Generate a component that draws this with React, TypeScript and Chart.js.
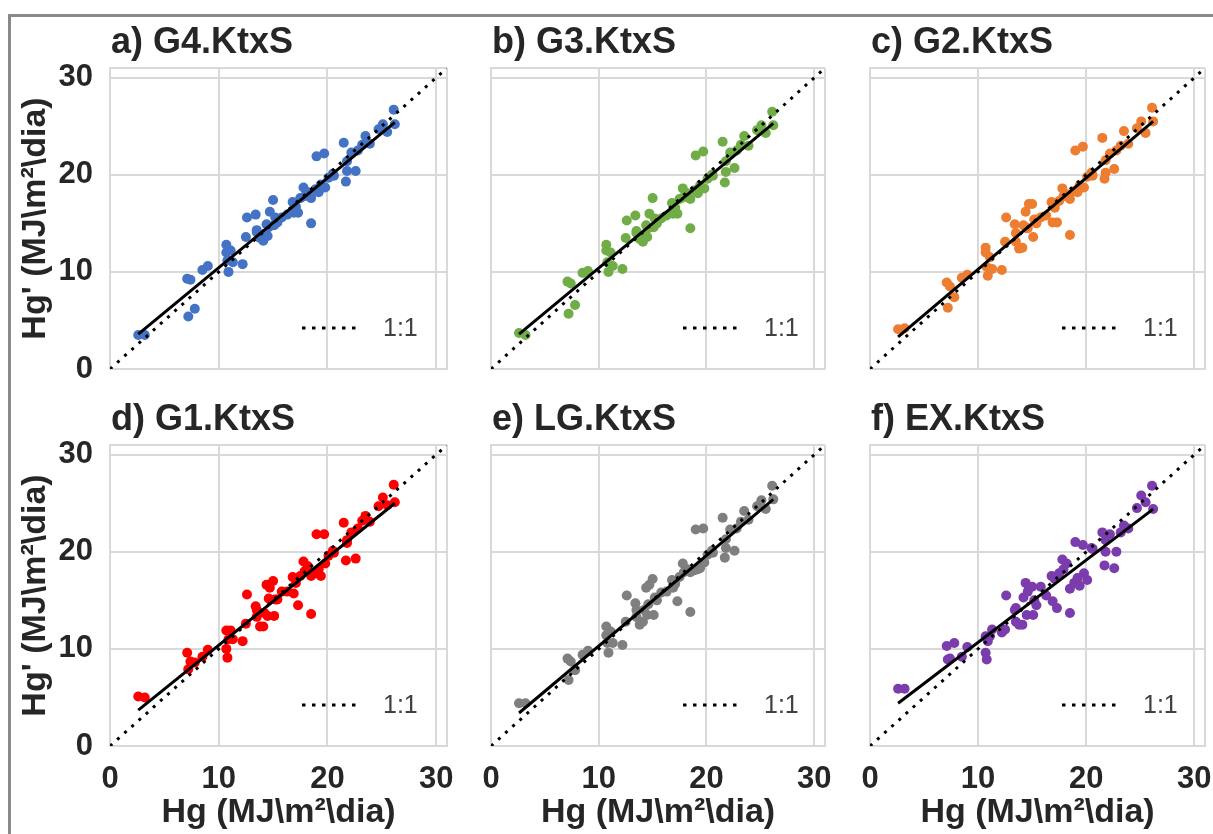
import React, { useEffect, useRef } from 'react';
import { Chart, registerables } from 'chart.js';

Chart.register(...registerables);

// ---------- data ----------
const PANEL_TITLES = ['a) G4.KtxS', 'b) G3.KtxS', 'c) G2.KtxS', 'd) G1.KtxS', 'e) LG.KtxS', 'f) EX.KtxS'];
const PANEL_COLORS = ['#4472C4', '#70AD47', '#ED7D31', '#FF0000', '#7F7F7F', '#7B3CAD'];
const AXIS_TICKS = [0, 10, 20, 30, 31];
const AXIS_MIN = 0;
const AXIS_MAX = 31;
const X_TITLE = 'Hg (MJ\\m²\\dia)';
const Y_TITLE = "Hg' (MJ\\m²\\dia)";
const LEGEND_LABEL = '1:1';

// observed Hg (shared by all panels)
const HG = [2.6, 3.2, 7.1, 7.4, 7.2, 7.8, 8.5, 9.0, 10.7, 10.7, 10.8, 10.9, 11.3, 12.2, 12.5, 12.6, 13.4, 13.5, 13.8, 14.2, 14.5, 14.4, 14.7, 14.6, 15.0, 15.2, 15.1, 15.8, 16.8, 16.9, 17.3, 17.5, 17.8, 18.2, 18.5, 18.5, 18.9, 19.4, 19.8, 20.1, 20.5, 19.0, 19.7, 21.5, 21.8, 21.8, 21.7, 22.6, 22.8, 23.5, 23.9, 25.1, 25.5, 26.1, 26.2, 14.1, 13.5, 16.3, 17.1, 17.9, 20.6, 23.2, 24.7, 11.1, 15.4, 22.2, 19.2];

// estimated Hg' per model
const HG_G4 = [3.5, 3.5, 9.3, 9.2, 5.4, 6.2, 10.2, 10.6, 12.8, 12.0, 11.2, 10.0, 11.0, 10.8, 13.6, 15.6, 15.9, 14.3, 13.5, 13.9, 13.7, 14.9, 16.2, 14.6, 17.4, 15.6, 14.8, 15.6, 17.2, 16.1, 16.1, 17.6, 18.7, 18.2, 17.6, 15.0, 18.5, 19.0, 18.7, 19.7, 20.1, 21.9, 22.2, 23.3, 21.4, 20.4, 19.3, 20.4, 22.5, 24.0, 23.2, 25.2, 24.4, 26.7, 25.2, 13.2, 14.1, 15.9, 16.7, 17.8, 19.9, 23.1, 24.7, 12.2, 15.1, 22.3, 18.2];
const HG_G3 = [3.7, 3.5, 9.0, 8.8, 5.7, 6.6, 9.9, 10.1, 12.8, 12.2, 11.0, 10.0, 10.6, 10.3, 13.5, 15.3, 15.8, 14.2, 13.4, 13.8, 13.6, 14.8, 16.0, 14.5, 17.6, 15.5, 14.6, 15.5, 17.1, 16.0, 16.0, 17.5, 18.6, 18.1, 17.5, 14.5, 18.4, 18.9, 18.6, 19.6, 20.0, 22.0, 22.4, 23.4, 21.4, 20.3, 19.2, 20.7, 22.5, 24.0, 23.0, 25.1, 24.3, 26.5, 25.1, 13.1, 14.0, 15.8, 16.6, 17.7, 19.9, 23.1, 24.6, 12.0, 15.0, 22.3, 18.1];
const HG_G2 = [4.1, 4.2, 8.9, 8.5, 6.3, 7.4, 9.4, 9.7, 12.5, 12.0, 10.5, 9.6, 10.3, 10.2, 13.1, 15.6, 14.9, 13.1, 12.4, 14.8, 14.5, 16.2, 17.0, 14.5, 17.0, 15.4, 13.6, 15.6, 17.2, 15.1, 15.1, 17.3, 18.6, 18.0, 17.5, 13.8, 18.3, 18.9, 18.7, 19.8, 20.2, 22.5, 22.9, 23.8, 21.5, 20.2, 19.6, 20.6, 22.5, 24.5, 23.2, 25.5, 24.3, 26.9, 25.5, 12.5, 14.0, 15.8, 16.6, 17.8, 19.9, 23.0, 24.8, 11.5, 15.0, 22.2, 18.2];
const HG_G1 = [5.1, 5.0, 9.6, 8.7, 7.9, 8.6, 9.2, 9.9, 11.9, 10.0, 9.1, 11.0, 11.0, 10.8, 12.6, 15.6, 14.4, 13.3, 12.3, 13.7, 13.4, 16.6, 16.3, 15.2, 17.0, 15.1, 13.4, 15.9, 17.4, 15.7, 14.5, 17.5, 19.0, 18.5, 17.5, 13.6, 17.8, 17.5, 18.8, 19.6, 20.1, 21.8, 21.8, 23.0, 20.9, 21.2, 19.1, 19.3, 22.4, 23.7, 23.1, 25.6, 24.8, 26.9, 25.1, 12.3, 14.0, 15.9, 16.8, 18.0, 19.9, 23.2, 24.7, 11.9, 15.1, 22.0, 18.2];
const HG_LG = [4.4, 4.4, 9.0, 8.7, 6.8, 7.8, 9.4, 9.8, 12.3, 11.4, 10.6, 9.6, 10.6, 10.4, 12.8, 15.5, 14.7, 13.3, 12.5, 14.0, 13.5, 16.3, 16.6, 14.6, 17.2, 15.3, 13.5, 15.8, 17.1, 16.3, 14.9, 17.4, 18.8, 18.2, 17.9, 13.8, 18.1, 18.3, 18.9, 19.7, 20.1, 22.3, 22.4, 23.5, 21.3, 20.4, 19.4, 20.1, 22.4, 24.2, 23.3, 25.3, 24.4, 26.8, 25.4, 12.8, 14.0, 15.9, 16.7, 17.9, 19.9, 23.1, 24.7, 11.8, 15.0, 22.3, 18.2];
const HG_EX = [5.9, 5.9, 10.3, 9.0, 8.9, 10.6, 9.2, 10.2, 11.3, 9.6, 8.9, 10.8, 12.0, 11.7, 12.0, 15.5, 14.0, 12.8, 12.5, 15.3, 13.5, 16.8, 16.4, 15.9, 16.4, 15.0, 13.5, 16.4, 17.5, 14.9, 14.2, 17.8, 19.2, 18.8, 16.2, 13.7, 16.8, 16.5, 17.8, 17.1, 20.4, 21.0, 20.7, 22.0, 21.2, 20.0, 18.6, 18.3, 20.0, 22.7, 22.4, 25.8, 25.1, 26.8, 24.4, 12.5, 14.2, 15.5, 17.2, 18.2, 20.3, 22.0, 24.5, 11.3, 14.5, 21.8, 17.3];

// trend line end points (x and y for each model)
const FIT_X = [2.6, 26.2];
const FIT_G4 = [3.6, 25.4];
const FIT_G3 = [3.6, 25.3];
const FIT_G2 = [3.3, 25.5];
const FIT_G1 = [3.7, 25.0];
const FIT_LG = [3.4, 25.4];
const FIT_EX = [4.4, 24.4];
const ONE_TO_ONE = [0, 31];

const SERIES = [HG_G4, HG_G3, HG_G2, HG_G1, HG_LG, HG_EX];
const FITS = [FIT_G4, FIT_G3, FIT_G2, FIT_G1, FIT_LG, FIT_EX];

// ---------- layout ----------
const FONT = '"Liberation Sans", Arial, Helvetica, sans-serif';
const TEXT_COLOR = '#262626';
const GRID_COLOR = '#d9d9d9';

const COLS = [
  { cl: 12, cw: 448, plotL: 110, plotR: 447, showY: true },
  { cl: 462, cw: 378, plotL: 491, plotR: 825, showY: false },
  { cl: 842, cw: 371, plotL: 870, plotR: 1205, showY: false },
];
const ROWS = [
  { ct: 18, ch: 375, plotT: 68, plotB: 369, showX: false },
  { ct: 395, ch: 439, plotT: 445, plotB: 746, showX: true },
];

const decoPlugin = {
  id: 'panelDeco',
  afterDatasetsDraw(chart: any, _args: any, opts: any) {
    const { ctx, chartArea: a } = chart;
    ctx.save();
    // legend sample for the 1:1 line
    ctx.strokeStyle = '#000';
    ctx.lineWidth = 3;
    ctx.setLineDash([3.5, 6.5]);
    ctx.beginPath();
    ctx.moveTo(a.left + 192, a.bottom - 41);
    ctx.lineTo(a.left + 247, a.bottom - 41);
    ctx.stroke();
    ctx.setLineDash([]);
    ctx.fillStyle = '#404040';
    ctx.font = `25px ${FONT}`;
    ctx.textBaseline = 'middle';
    ctx.textAlign = 'left';
    ctx.fillText(LEGEND_LABEL, a.left + 273, a.bottom - 40);
    // panel title
    ctx.fillStyle = TEXT_COLOR;
    ctx.font = `bold 36px ${FONT}`;
    ctx.textBaseline = 'alphabetic';
    ctx.fillText(opts.title, a.left + 1, a.top - 15);
    ctx.restore();
  },
};

function Panel({ index }: { index: number }) {
  const ref = useRef<HTMLCanvasElement>(null);
  const col = COLS[index % 3];
  const row = ROWS[Math.floor(index / 3)];

  useEffect(() => {
    if (!ref.current) return;
    const ys = SERIES[index];
    const fit = FITS[index];
    const points = HG.map((x, i) => ({ x, y: ys[i] }));
    const fitPoints = FIT_X.map((x, i) => ({ x, y: fit[i] }));
    const idPoints = ONE_TO_ONE.map((v) => ({ x: v, y: v }));

    const setTicks = (scale: any) => {
      scale.ticks = AXIS_TICKS.map((v) => ({ value: v }));
    };
    const tickLabel = (v: any) => (v === AXIS_MAX ? '' : String(v));

    const chart = new Chart(ref.current, {
      type: 'scatter',
      data: {
        datasets: [
          {
            data: fitPoints,
            showLine: true,
            borderColor: '#000',
            borderWidth: 3,
            pointRadius: 0,
            fill: false,
          },
          {
            data: idPoints,
            showLine: true,
            borderColor: '#000',
            borderWidth: 3,
            borderDash: [3, 6.6],
            pointRadius: 0,
            fill: false,
          },
          {
            data: points,
            backgroundColor: PANEL_COLORS[index],
            borderWidth: 0,
            pointRadius: 5,
          },
        ],
      },
      options: {
        responsive: false,
        animation: false,
        devicePixelRatio: 1,
        layout: {
          padding: { left: 0, top: row.plotT - row.ct, right: col.cl + col.cw - col.plotR, bottom: 0 },
        },
        plugins: {
          legend: { display: false },
          tooltip: { enabled: false },
          panelDeco: { title: PANEL_TITLES[index] },
        } as any,
        scales: {
          x: {
            type: 'linear',
            min: AXIS_MIN,
            max: AXIS_MAX,
            afterBuildTicks: setTicks,
            afterFit: (s: any) => {
              s.height = row.ct + row.ch - row.plotB;
              s.paddingLeft = 0;
              s.paddingRight = 0;
            },
            grid: { color: GRID_COLOR, lineWidth: 2, drawTicks: false },
            border: { display: true, color: GRID_COLOR, width: 2 },
            ticks: {
              display: row.showX,
              autoSkip: false,
              maxRotation: 0,
              padding: 15,
              color: TEXT_COLOR,
              font: { family: FONT, size: 31, weight: 'bold' },
              callback: tickLabel,
            },
            title: {
              display: row.showX,
              text: X_TITLE,
              color: TEXT_COLOR,
              font: { family: FONT, size: 34, weight: 'bold' },
              padding: { top: 0, bottom: 1 },
            },
          },
          y: {
            type: 'linear',
            min: AXIS_MIN,
            max: AXIS_MAX,
            afterBuildTicks: setTicks,
            afterFit: (s: any) => {
              s.width = col.plotL - col.cl;
              s.paddingTop = 0;
              s.paddingBottom = 0;
            },
            grid: { color: GRID_COLOR, lineWidth: 2, drawTicks: false },
            border: { display: true, color: GRID_COLOR, width: 2 },
            ticks: {
              display: col.showY,
              autoSkip: false,
              padding: 17,
              color: TEXT_COLOR,
              font: { family: FONT, size: 31, weight: 'bold' },
              callback: tickLabel,
            },
            title: {
              display: col.showY,
              text: Y_TITLE,
              color: TEXT_COLOR,
              font: { family: FONT, size: 34, weight: 'bold' },
              padding: { top: 3, bottom: 0 },
            },
          },
        },
      } as any,
      plugins: [decoPlugin],
    });
    return () => chart.destroy();
  }, [index]);

  return (
    <canvas
      ref={ref}
      width={col.cw}
      height={row.ch}
      style={{ position: 'absolute', left: col.cl, top: row.ct, width: col.cw, height: row.ch }}
    />
  );
}

export default function App() {
  return (
    <div style={{ position: 'absolute', left: 0, top: 0, width: 1213, height: 834, overflow: 'hidden', background: '#fff' }}>
      <div
        style={{
          position: 'absolute',
          left: 8,
          top: 14,
          width: 1205,
          height: 820,
          boxSizing: 'border-box',
          borderTop: '3px solid #898989',
          borderLeft: '3px solid #898989',
        }}
      />
      {[0, 1, 2, 3, 4, 5].map((i) => (
        <Panel key={i} index={i} />
      ))}
    </div>
  );
}
